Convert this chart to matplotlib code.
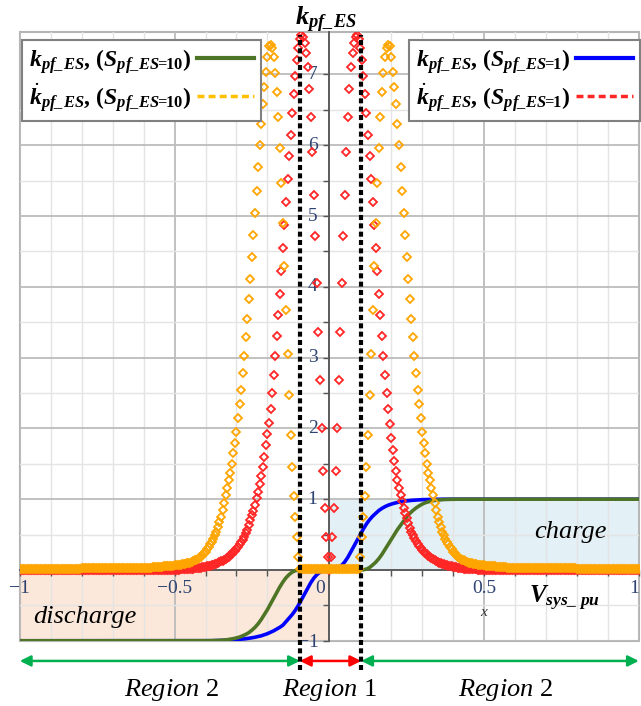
import numpy as np
import matplotlib
matplotlib.use("Agg")
import matplotlib.pyplot as plt
from matplotlib.lines import Line2D
from matplotlib.patches import Rectangle

plt.rcParams.update({
    'font.family': ['Liberation Serif', 'DejaVu Serif'],
    'mathtext.fontset': 'custom',
    'mathtext.rm': 'Liberation Serif',
    'mathtext.it': 'Liberation Serif:italic',
    'mathtext.bf': 'Liberation Serif:bold',
    'mathtext.bfit': 'Liberation Serif:italic:bold',
})

# ---------------- data ----------------
# derivative samples, step 0.005; *_pos: x = 0 .. 1, *_neg: x = -0.005 .. -1 (by |x|)
dstep = 0.005
red_pos = [
    0, 0.18, 0.46, 0.87, 1.40, 2.00, 2.68, 3.36, 4.05, 4.72,
    5.30, 5.90, 6.40, 6.80, 7.10, 7.30, 7.45, 7.53, 7.56, 7.50,
    7.38, 7.20, 6.98, 6.72, 6.45, 6.15, 5.85, 5.52, 5.20, 4.88,
    4.55, 4.22, 3.90, 3.60, 3.30, 3.02, 2.75, 2.50, 2.27, 2.06,
    1.87, 1.70, 1.54, 1.40, 1.27, 1.16, 1.06, 0.97, 0.88, 0.80,
    0.73, 0.66, 0.60, 0.54, 0.49, 0.45, 0.41, 0.37, 0.34, 0.31,
    0.28, 0.26, 0.24, 0.22, 0.20, 0.18, 0.165, 0.15, 0.14, 0.125,
    0.115, 0.105, 0.095, 0.087, 0.079, 0.072, 0.065, 0.06, 0.055, 0.05,
    0.045, 0.04, 0.036, 0.032, 0.028, 0.025, 0.022, 0.019, 0.017, 0.015,
    0.013, 0.011, 0.01, 0.009, 0.008, 0.007, 0.006, 0.005, 0.004, 0.003,
    0.002, 0.002, 0.001, 0.001, 0.001, 0, 0, 0, 0, 0,
    0, 0, 0, 0, 0, 0, 0, 0, 0, 0,
    0, 0, 0, 0, 0, 0, 0, 0, 0, 0,
    0, 0, 0, 0, 0, 0, 0, 0, 0, 0,
    0, 0, 0, 0, 0, 0, 0, 0, 0, 0,
    0, 0, 0, 0, 0, 0, 0, 0, 0, 0,
    0, 0, 0, 0, 0, 0, 0, 0, 0, 0,
    0, 0, 0, 0, 0, 0, 0, 0, 0, 0,
    0, 0, 0, 0, 0, 0, 0, 0, 0, 0,
    0, 0, 0, 0, 0, 0, 0, 0, 0, 0,
    0]
red_neg = [
    0.18, 0.46, 0.87, 1.40, 2.00, 2.68, 3.36, 4.05, 4.72, 5.30,
    5.90, 6.40, 6.80, 7.10, 7.30, 7.45, 7.53, 7.56, 7.50, 7.38,
    7.20, 6.98, 6.72, 6.45, 6.15, 5.85, 5.52, 5.20, 4.88, 4.55,
    4.22, 3.90, 3.60, 3.30, 3.02, 2.75, 2.50, 2.27, 2.08, 1.92,
    1.76, 1.60, 1.46, 1.33, 1.21, 1.10, 1.01, 0.92, 0.84, 0.77,
    0.70, 0.63, 0.57, 0.52, 0.47, 0.43, 0.39, 0.36, 0.33, 0.30,
    0.27, 0.25, 0.23, 0.21, 0.19, 0.175, 0.16, 0.145, 0.13, 0.12,
    0.11, 0.10, 0.09, 0.083, 0.076, 0.069, 0.063, 0.057, 0.052, 0.047,
    0.042, 0.038, 0.034, 0.03, 0.027, 0.024, 0.021, 0.018, 0.016, 0.014,
    0.012, 0.011, 0.01, 0.009, 0.008, 0.007, 0.006, 0.005, 0.004, 0.003,
    0.002, 0.002, 0.001, 0.001, 0.001, 0, 0, 0, 0, 0,
    0, 0, 0, 0, 0, 0, 0, 0, 0, 0,
    0, 0, 0, 0, 0, 0, 0, 0, 0, 0,
    0, 0, 0, 0, 0, 0, 0, 0, 0, 0,
    0, 0, 0, 0, 0, 0, 0, 0, 0, 0,
    0, 0, 0, 0, 0, 0, 0, 0, 0, 0,
    0, 0, 0, 0, 0, 0, 0, 0, 0, 0,
    0, 0, 0, 0, 0, 0, 0, 0, 0, 0,
    0, 0, 0, 0, 0, 0, 0, 0, 0, 0,
    0, 0, 0, 0, 0, 0, 0, 0, 0, 0]
orange_pos = [
    0.02, 0.02, 0.02, 0.02, 0.02, 0.02, 0.02, 0.02, 0.02, 0.02,
    0.02, 0.02, 0.02, 0.02, 0.02, 0.02, 0.02, 0.02, 0.02, 0.02,
    0.18, 0.46, 0.75, 1.04, 1.45, 1.90, 2.47, 3.05, 3.67, 4.30,
    4.90, 5.47, 5.96, 6.40, 6.75, 7.02, 7.25, 7.37, 7.42, 7.40,
    7.25, 7.03, 6.82, 6.58, 6.30, 6.00, 5.69, 5.36, 5.04, 4.73,
    4.42, 4.11, 3.83, 3.55, 3.29, 3.02, 2.78, 2.54, 2.34, 2.15,
    1.95, 1.79, 1.65, 1.50, 1.37, 1.27, 1.16, 1.06, 0.95, 0.85,
    0.75, 0.68, 0.61, 0.54, 0.49, 0.44, 0.40, 0.36, 0.32, 0.29,
    0.26, 0.235, 0.21, 0.19, 0.175, 0.16, 0.145, 0.135, 0.125, 0.115,
    0.105, 0.10, 0.095, 0.09, 0.085, 0.08, 0.076, 0.072, 0.07, 0.068,
    0.065, 0.062, 0.06, 0.058, 0.056, 0.054, 0.052, 0.05, 0.048, 0.046,
    0.044, 0.042, 0.04, 0.038, 0.036, 0.034, 0.032, 0.03, 0.028, 0.026,
    0.025, 0.025, 0.025, 0.025, 0.025, 0.025, 0.025, 0.025, 0.025, 0.025,
    0.025, 0.025, 0.025, 0.025, 0.025, 0.025, 0.025, 0.025, 0.025, 0.025,
    0.022, 0.022, 0.022, 0.022, 0.022, 0.022, 0.022, 0.022, 0.022, 0.022,
    0.022, 0.022, 0.022, 0.022, 0.022, 0.022, 0.022, 0.022, 0.022, 0.022,
    0.02, 0.02, 0.02, 0.02, 0.02, 0.02, 0.02, 0.02, 0.02, 0.02,
    0.02, 0.02, 0.02, 0.02, 0.02, 0.02, 0.02, 0.02, 0.02, 0.02,
    0.02, 0.02, 0.02, 0.02, 0.02, 0.02, 0.02, 0.02, 0.02, 0.02,
    0.02, 0.02, 0.02, 0.02, 0.02, 0.02, 0.02, 0.02, 0.02, 0.02,
    0.02]
orange_neg = [
    0.02, 0.02, 0.02, 0.02, 0.02, 0.02, 0.02, 0.02, 0.02, 0.02,
    0.02, 0.02, 0.02, 0.02, 0.02, 0.02, 0.02, 0.02, 0.02, 0.18,
    0.46, 0.75, 1.04, 1.45, 1.90, 2.47, 3.05, 3.67, 4.30, 4.90,
    5.47, 5.96, 6.40, 6.75, 7.02, 7.25, 7.37, 7.42, 7.40, 7.25,
    7.03, 6.82, 6.58, 6.30, 6.00, 5.69, 5.36, 5.04, 4.73, 4.42,
    4.11, 3.83, 3.55, 3.29, 3.02, 2.78, 2.54, 2.34, 2.15, 1.95,
    1.79, 1.65, 1.50, 1.37, 1.27, 1.16, 1.06, 0.95, 0.85, 0.75,
    0.68, 0.61, 0.54, 0.49, 0.44, 0.40, 0.36, 0.32, 0.29, 0.26,
    0.235, 0.21, 0.19, 0.175, 0.16, 0.145, 0.135, 0.125, 0.115, 0.105,
    0.10, 0.095, 0.09, 0.085, 0.08, 0.076, 0.072, 0.07, 0.068, 0.065,
    0.062, 0.06, 0.058, 0.056, 0.054, 0.052, 0.05, 0.048, 0.046, 0.044,
    0.042, 0.04, 0.038, 0.036, 0.034, 0.032, 0.03, 0.028, 0.026, 0.025,
    0.025, 0.025, 0.025, 0.025, 0.025, 0.025, 0.025, 0.025, 0.025, 0.025,
    0.025, 0.025, 0.025, 0.025, 0.025, 0.025, 0.025, 0.025, 0.025, 0.025,
    0.022, 0.022, 0.022, 0.022, 0.022, 0.022, 0.022, 0.022, 0.022, 0.022,
    0.022, 0.022, 0.022, 0.022, 0.022, 0.022, 0.022, 0.022, 0.022, 0.022,
    0.02, 0.02, 0.02, 0.02, 0.02, 0.02, 0.02, 0.02, 0.02, 0.02,
    0.02, 0.02, 0.02, 0.02, 0.02, 0.02, 0.02, 0.02, 0.02, 0.02,
    0.02, 0.02, 0.02, 0.02, 0.02, 0.02, 0.02, 0.02, 0.02, 0.02,
    0.02, 0.02, 0.02, 0.02, 0.02, 0.02, 0.02, 0.02, 0.02, 0.02]

# k curves, step 0.01; *_pos: x = 0 .. 1, *_neg: x = -0.01 .. -1 (by |x|)
lstep = 0.01
green_pos = [
    0, 0, 0, 0, 0, 0, 0, 0, 0, 0,
    0, 0.003, 0.012, 0.035, 0.07, 0.11, 0.16, 0.22, 0.29, 0.36,
    0.43, 0.50, 0.57, 0.63, 0.69, 0.75, 0.80, 0.84, 0.875, 0.905,
    0.93, 0.95, 0.963, 0.974, 0.982, 0.988, 0.992, 0.995, 0.997, 0.998,
    0.999, 1, 1, 1, 1, 1, 1, 1, 1, 1,
    1, 1, 1, 1, 1, 1, 1, 1, 1, 1,
    1, 1, 1, 1, 1, 1, 1, 1, 1, 1,
    1, 1, 1, 1, 1, 1, 1, 1, 1, 1,
    1, 1, 1, 1, 1, 1, 1, 1, 1, 1,
    1, 1, 1, 1, 1, 1, 1, 1, 1, 1,
    1]
green_neg = [
    0, 0, 0, 0, 0, 0, 0, 0, 0, 0,
    -0.01, -0.03, -0.065, -0.11, -0.17, -0.24, -0.32, -0.40, -0.48, -0.56,
    -0.63, -0.70, -0.76, -0.81, -0.85, -0.885, -0.91, -0.93, -0.948, -0.96,
    -0.97, -0.978, -0.985, -0.99, -0.993, -0.995, -0.997, -0.998, -0.999, -1,
    -1, -1, -1, -1, -1, -1, -1, -1, -1, -1,
    -1, -1, -1, -1, -1, -1, -1, -1, -1, -1,
    -1, -1, -1, -1, -1, -1, -1, -1, -1, -1,
    -1, -1, -1, -1, -1, -1, -1, -1, -1, -1,
    -1, -1, -1, -1, -1, -1, -1, -1, -1, -1,
    -1, -1, -1, -1, -1, -1, -1, -1, -1, -1]
blue_pos = [
    0, 0.002, 0.01, 0.03, 0.065, 0.115, 0.18, 0.26, 0.34, 0.42,
    0.50, 0.58, 0.65, 0.71, 0.76, 0.80, 0.84, 0.87, 0.895, 0.915,
    0.93, 0.943, 0.954, 0.963, 0.97, 0.976, 0.981, 0.985, 0.988, 0.991,
    0.993, 0.995, 0.996, 0.997, 0.998, 0.999, 1, 1, 1, 1,
    1, 1, 1, 1, 1, 1, 1, 1, 1, 1,
    1, 1, 1, 1, 1, 1, 1, 1, 1, 1,
    1, 1, 1, 1, 1, 1, 1, 1, 1, 1,
    1, 1, 1, 1, 1, 1, 1, 1, 1, 1,
    1, 1, 1, 1, 1, 1, 1, 1, 1, 1,
    1, 1, 1, 1, 1, 1, 1, 1, 1, 1,
    1]
blue_neg = [
    -0.002, -0.01, -0.03, -0.065, -0.115, -0.18, -0.26, -0.34, -0.42, -0.50,
    -0.57, -0.63, -0.68, -0.73, -0.78, -0.81, -0.835, -0.86, -0.88, -0.90,
    -0.915, -0.93, -0.94, -0.95, -0.958, -0.965, -0.971, -0.976, -0.98, -0.984,
    -0.987, -0.99, -0.992, -0.994, -0.996, -0.997, -0.998, -0.999, -1, -1,
    -1, -1, -1, -1, -1, -1, -1, -1, -1, -1,
    -1, -1, -1, -1, -1, -1, -1, -1, -1, -1,
    -1, -1, -1, -1, -1, -1, -1, -1, -1, -1,
    -1, -1, -1, -1, -1, -1, -1, -1, -1, -1,
    -1, -1, -1, -1, -1, -1, -1, -1, -1, -1,
    -1, -1, -1, -1, -1, -1, -1, -1, -1, -1]

deadband = [-0.095, 0.103]          # dashed boundaries of Region 1
x_ticklabels = {-1: '\u22121', -0.5: '\u22120.5', 0: '0', 0.5: '0.5', 1: '1'}
y_ticklabels = [1, 2, 3, 4, 5, 6, 7]

EQ = r'\!\!\mathbf{=}\!\!'
lab_g = r'$\mathbfit{k}_{\mathbfit{pf\_ES}}$, ($\mathbfit{S}_{\mathbfit{pf\_ES}' + EQ + r'\mathbf{10}}$)'
lab_o = r'$\dot{\mathbfit{k}}_{\mathbfit{pf\_ES}}$, ($\mathbfit{S}_{\mathbfit{pf\_ES}' + EQ + r'\mathbf{10}}$)'
lab_b = r'$\mathbfit{k}_{\mathbfit{pf\_ES}}$, ($\mathbfit{S}_{\mathbfit{pf\_ES}' + EQ + r'\mathbf{1}}$)'
lab_r = r'$\dot{\mathbfit{k}}_{\mathbfit{pf\_ES}}$, ($\mathbfit{S}_{\mathbfit{pf\_ES}' + EQ + r'\mathbf{1}}$)'

for a, b in [(red_pos, 201), (red_neg, 200), (orange_pos, 201), (orange_neg, 200),
             (green_pos, 101), (green_neg, 100), (blue_pos, 101), (blue_neg, 100)]:
    assert len(a) == b, (len(a), b)

xd_pos = np.arange(len(red_pos)) * dstep
xd = np.concatenate([-xd_pos[1:][::-1], xd_pos])
red = np.concatenate([np.array(red_neg)[::-1], red_pos])
orange = np.concatenate([np.array(orange_neg)[::-1], orange_pos])
xl_pos = np.arange(len(green_pos)) * lstep
xl = np.concatenate([-xl_pos[1:][::-1], xl_pos])
green = np.concatenate([np.array(green_neg)[::-1], green_pos])
blue = np.concatenate([np.array(blue_neg)[::-1], blue_pos])

# ---------------- colours ----------------
C_GREEN = '#4e7425'
C_BLUE = '#0000ff'
C_ORANGE = '#ffa500'
C_ORANGE_LEG = '#ffc000'
C_RED = '#ff2626'
C_LAB = '#2e4372'

fig = plt.figure(figsize=(6.41, 7.06), dpi=100)
ax = fig.add_axes([0.0309, 0.0924, 0.9657, 0.8623])
ax.set_xlim(-1, 1)
ax.set_ylim(-1, 7.6)

# shaded quadrants
ax.add_patch(Rectangle((-1, -1), 1, 1, facecolor='#fce8da', edgecolor='none', zorder=0.1))
ax.add_patch(Rectangle((0, 0), 1, 1, facecolor='#e3f0f5', edgecolor='none', zorder=0.1))

# grid & ticks
ax.set_xticks(np.arange(-1, 1.01, 0.5))
ax.set_xticks(np.arange(-1, 1.01, 0.1), minor=True)
ax.set_yticks(np.arange(-1, 7.01, 1))
ax.set_yticks(np.arange(-1, 7.01, 0.5), minor=True)
ax.set_xticklabels([])
ax.set_yticklabels([])
ax.set_axisbelow(True)
ax.grid(which='major', color='#bcbcbc', lw=1.3)
ax.grid(which='minor', color='#e4e4e4', lw=1.0)
ax.tick_params(which='both', direction='out', length=4, width=1, color='#555555')

for s in ['top', 'right']:
    ax.spines[s].set_visible(False)
ax.spines['left'].set_position(('data', 0))
ax.spines['bottom'].set_position(('data', 0))
for s in ['left', 'bottom']:
    ax.spines[s].set_color('#555555')
    ax.spines[s].set_linewidth(1.3)
ax.add_patch(Rectangle((0, 0), 1, 1, transform=ax.transAxes, fill=False,
                       ec='#b4b4b4', lw=1.5, clip_on=False, zorder=0.3))

# curves
ax.plot(xl, blue, color=C_BLUE, lw=2.6, zorder=3, solid_capstyle='round')
ax.plot(xl, green, color=C_GREEN, lw=2.6, zorder=3, solid_capstyle='round')
ax.plot(xd, red, ls='none', marker='D', ms=4.3, mfc='none', mec=C_RED, mew=1.3, zorder=4)
ax.plot(xd, orange, ls='none', marker='D', ms=4.3, mfc='none', mec=C_ORANGE, mew=1.3, zorder=4.5)

# tick labels
for xv, t in x_ticklabels.items():
    if xv == 0:
        ax.text(-0.03, -0.26, t, ha='center', va='center', fontsize=14, color=C_LAB)
    elif xv == 1:
        ax.text(1.0, -0.26, t, ha='right', va='center', fontsize=14, color=C_LAB)
    else:
        ax.text(xv, -0.26, t, ha='center', va='center', fontsize=14, color=C_LAB)
for yv in y_ticklabels:
    ax.text(-0.054, yv, str(yv), ha='center', va='center', fontsize=14, color=C_LAB)
ax.text(-0.068, -1.03, '\u22121', ha='center', va='center', fontsize=14, color=C_LAB, clip_on=False)

# axis titles
ax.text(-0.012, 7.77, r'$\mathbfit{k}_{\mathbfit{pf\_ES}}$', ha='center', va='center',
        fontsize=19, clip_on=False)
ax.text(0.76, -0.40, r'$\mathbfit{V}_{\mathbfit{sys\_\ pu}}$', ha='center', va='center', fontsize=18)
ax.text(0.50, -0.60, r'$x$', ha='center', va='center', fontsize=11, color='#333333')
ax.text(0.778, 0.53, 'charge', ha='center', va='center', fontsize=19, style='italic')
ax.text(-0.79, -0.66, 'discharge', ha='center', va='center', fontsize=19, style='italic')

# dashed boundaries
for xb in deadband:
    ax.plot([xb, xb], [-1.41, 7.56], color='black', lw=3, ls=(0, (1.2, 0.8)),
            clip_on=False, zorder=6)

# region arrows
yA = -1.285
for (xa, xb, c) in [(-1, deadband[0], '#00b050'), (deadband[0], deadband[1], '#ff0000'),
                    (deadband[1], 1, '#00b050')]:
    ax.annotate('', xy=(xa, yA), xytext=(xb, yA), annotation_clip=False,
                arrowprops=dict(arrowstyle='<|-|>', color=c, lw=1.8, mutation_scale=16,
                                shrinkA=0, shrinkB=0))
yR = -1.70
for xr, t in [(-0.51, r'$\mathit{Region}$ 2'), (0.0, r'$\mathit{Region}$ 1'), (0.57, r'$\mathit{Region}$ 2')]:
    ax.text(xr, yR, t, ha='center', va='center', fontsize=19, clip_on=False)

# legends
h_g = Line2D([], [], color=C_GREEN, lw=3)
h_o = Line2D([], [], color=C_ORANGE_LEG, lw=2.5, ls=(0, (2, 1.2)))
h_b = Line2D([], [], color=C_BLUE, lw=3)
h_r = Line2D([], [], color=C_RED, lw=2.5, ls=(0, (2, 1.2)))
lprop = {'family': 'Liberation Serif', 'weight': 'bold', 'size': 17}
common = dict(bbox_transform=fig.transFigure, borderaxespad=0, markerfirst=False, prop=lprop,
              fancybox=False, framealpha=1, edgecolor='#808080', handlelength=2.4,
              handletextpad=0.25, labelspacing=0.2, borderpad=0.3)
leg1 = ax.legend([h_g, h_o], [lab_g, lab_o], loc='upper left',
                 bbox_to_anchor=(22 / 641, 1 - 40 / 706), **common)
leg1.get_frame().set_linewidth(1.5)
leg1.set_zorder(10)
ax.add_artist(leg1)
leg2 = ax.legend([h_b, h_r], [lab_b, lab_r], loc='upper right',
                 bbox_to_anchor=(640 / 641, 1 - 40 / 706), **common)
leg2.get_frame().set_linewidth(1.5)
leg2.set_zorder(10)

fig.savefig('out.png', dpi=100)
